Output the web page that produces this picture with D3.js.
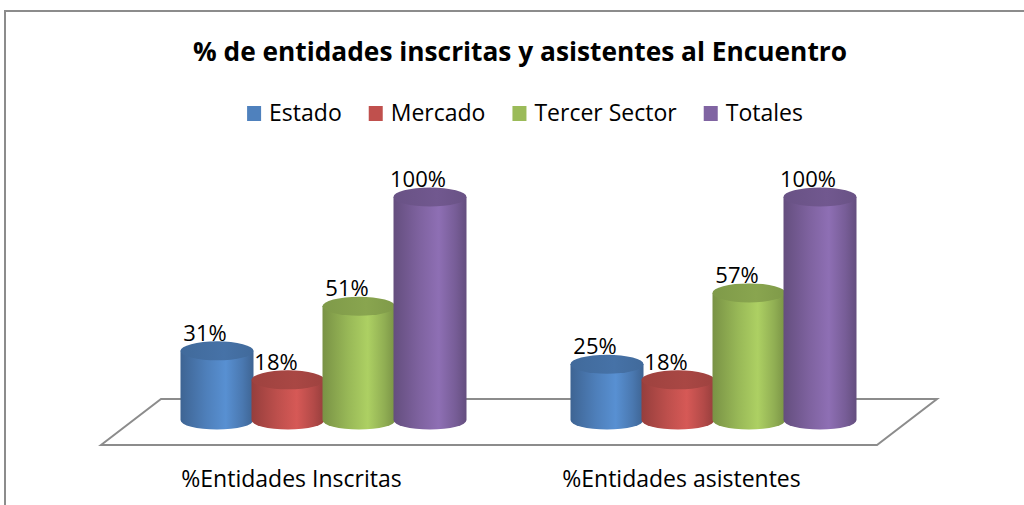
<!DOCTYPE html>
<html>
<head>
<meta charset="utf-8">
<script src="https://cdn.jsdelivr.net/npm/d3@7"></script>
<style>
  html, body { margin: 0; padding: 0; background: #fff; }
  svg { display: block; }
  text { font-family: "Open Sans", "Noto Sans", sans-serif; fill: #000; }
</style>
</head>
<body>
<svg id="chart" width="1024" height="505"></svg>
<script>
// ---- data ----
const title = "% de entidades inscritas y asistentes al Encuentro";
const categories = ["%Entidades Inscritas", "%Entidades asistentes"];
const series = ["Estado", "Mercado", "Tercer Sector", "Totales"];
const colors = ["#4F81BD", "#C0504D", "#9BBB59", "#8064A2"];
const valuesEstado = [0.31, 0.25];
const valuesMercado = [0.18, 0.18];
const valuesTercer = [0.51, 0.57];
const valuesTotales = [1.00, 1.00];
const seriesValues = [valuesEstado, valuesMercado, valuesTercer, valuesTotales];

// ---- layout ----
const svg = d3.select("#chart");
const W = 1024, H = 505;

// chart border
svg.append("rect")
  .attr("x", 5).attr("y", 11)
  .attr("width", W + 20).attr("height", H + 20)
  .attr("fill", "none").attr("stroke", "#8c8c8c").attr("stroke-width", 2);

// title
const t = svg.append("text")
  .attr("x", 520).attr("y", 61)
  .attr("text-anchor", "middle")
  .attr("font-size", 27).attr("font-weight", "bold")
  .text(title);
t.attr("textLength", 654).attr("lengthAdjust", "spacingAndGlyphs");

// legend
const legend = svg.append("g");
let lx = 0;
series.forEach((s, i) => {
  const g = legend.append("g");
  g.append("rect").attr("x", 0).attr("y", -15).attr("width", 14).attr("height", 15).attr("fill", colors[i]);
  const tx = g.append("text").attr("x", 22).attr("y", 0).attr("font-size", 23).text(s);
  const w = 22 + tx.node().getComputedTextLength();
  g.attr("transform", `translate(${lx},121)`);
  lx += w + 27;
});
const legendW = lx - 27;
legend.attr("transform", `translate(${525 - legendW / 2},0)`);

// scales
const groupStep = 390, cylStep = 71, groupW = cylStep * 4;
const x0 = d3.scaleBand()
  .domain(categories)
  .range([181.5, 181.5 + groupStep + groupW])
  .paddingInner((groupStep - groupW) / groupStep)
  .paddingOuter(0);
const x1 = d3.scaleBand().domain(series).range([0, x0.bandwidth()]).padding(0);
const y = d3.scaleLinear().domain([0, 1]).range([420, 197]);

// floor
const floor = svg.append("g");
const fl = { bl: [161, 399], br: [937, 399], fr: [877, 445], fl: [101, 445] };
floor.append("path")
  .attr("d", `M${fl.fl} L${fl.bl} L${fl.br} L${fl.fr} Z`)
  .attr("fill", "#fff").attr("stroke", "#8c8c8c").attr("stroke-width", 2)
  .attr("stroke-linejoin", "miter");

// gradients
const defs = svg.append("defs");
colors.forEach((c, i) => {
  const base = d3.color(c);
  const g = defs.append("linearGradient").attr("id", "body" + i)
    .attr("x1", "0%").attr("x2", "100%").attr("y1", "0%").attr("y2", "0%");
  g.append("stop").attr("offset", "0%").attr("stop-color", base.darker(0.7).formatHex());
  g.append("stop").attr("offset", "35%").attr("stop-color", base.darker(0.05).formatHex());
  g.append("stop").attr("offset", "62%").attr("stop-color", base.brighter(0.3).formatHex());
  g.append("stop").attr("offset", "85%").attr("stop-color", base.darker(0.2).formatHex());
  g.append("stop").attr("offset", "100%").attr("stop-color", base.darker(0.7).formatHex());
  const tg = defs.append("linearGradient").attr("id", "top" + i)
    .attr("x1", "0%").attr("x2", "100%").attr("y1", "0%").attr("y2", "0%");
  tg.append("stop").attr("offset", "0%").attr("stop-color", base.darker(0.55).formatHex());
  tg.append("stop").attr("offset", "60%").attr("stop-color", base.darker(0.35).formatHex());
  tg.append("stop").attr("offset", "100%").attr("stop-color", base.darker(0.55).formatHex());
});

// cylinders
const rx = 36.5, ry = 9.5;
const bars = svg.append("g");
categories.forEach((cat, ci) => {
  series.forEach((s, si) => {
    const v = seriesValues[si][ci];
    const cx = x0(cat) + x1(s) + x1.bandwidth() / 2;
    const yb = y(0), yt = y(v);
    const g = bars.append("g");
    g.append("path")
      .attr("d", `M${cx - rx},${yt} L${cx - rx},${yb} A${rx},${ry} 0 0 0 ${cx + rx},${yb} L${cx + rx},${yt} Z`)
      .attr("fill", `url(#body${si})`);
    g.append("ellipse")
      .attr("cx", cx).attr("cy", yt).attr("rx", rx).attr("ry", ry)
      .attr("fill", `url(#top${si})`);
    svg.append("text")
      .attr("class", "dlabel")
      .attr("x", cx - 12).attr("y", yt - 10)
      .attr("text-anchor", "middle").attr("font-size", 22)
      .text(d3.format(".0%")(v));
  });
});
svg.selectAll("text.dlabel").raise();

// category labels
categories.forEach(cat => {
  svg.append("text")
    .attr("x", x0(cat) + x0.bandwidth() / 2 - 32)
    .attr("y", 487)
    .attr("text-anchor", "middle").attr("font-size", 23)
    .text(cat);
});
</script>
</body>
</html>
